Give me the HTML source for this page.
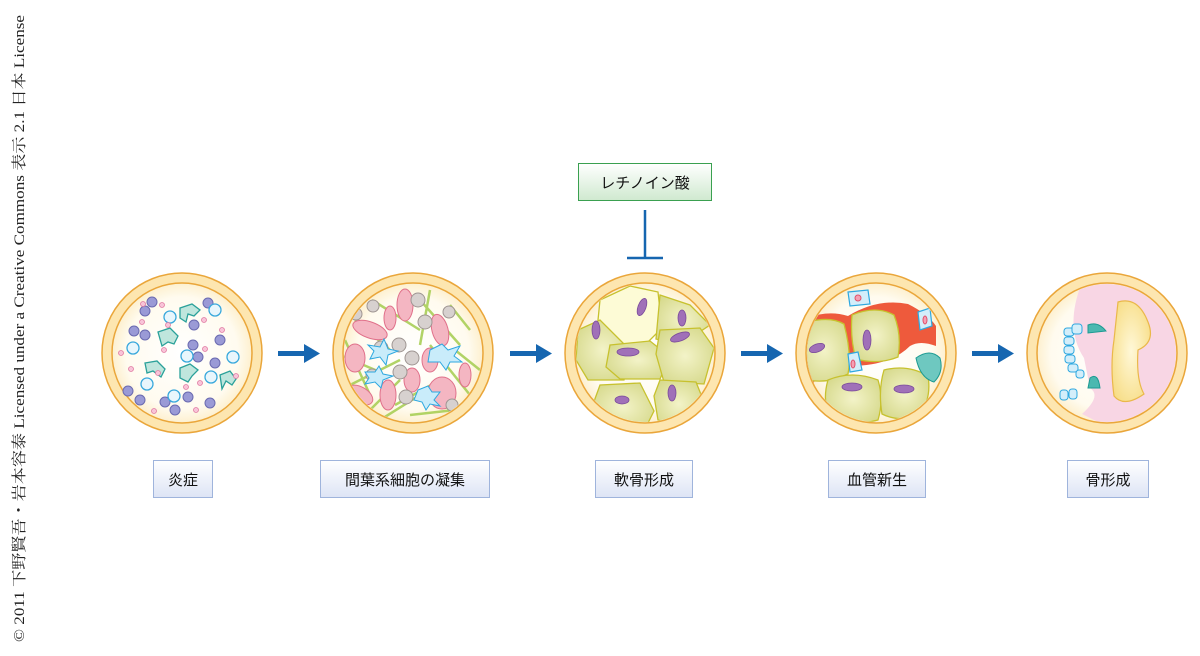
<!DOCTYPE html>
<html><head><meta charset="utf-8"><style>
body{margin:0;background:#fff;width:1200px;height:656px;overflow:hidden}
svg{display:block}
.lb{font-family:"Liberation Sans","Noto Sans CJK JP",sans-serif;font-size:15px;fill:#111}
</style></head><body>
<svg width="1200" height="656" viewBox="0 0 1200 656">
<defs>
<radialGradient id="bg" cx="50%" cy="50%" r="50%"><stop offset="0" stop-color="#fff"/><stop offset="0.8" stop-color="#fffbef"/><stop offset="1" stop-color="#fdf0cf"/></radialGradient>
<radialGradient id="cart" cx="50%" cy="50%" r="60%"><stop offset="0" stop-color="#f3f3c8"/><stop offset="1" stop-color="#d6d98c"/></radialGradient>
<linearGradient id="box" x1="0" y1="0" x2="0" y2="1"><stop offset="0" stop-color="#fff"/><stop offset="1" stop-color="#dde4f5"/></linearGradient>
<linearGradient id="gbox" x1="0" y1="0" x2="0" y2="1"><stop offset="0" stop-color="#fff"/><stop offset="1" stop-color="#cfe9cf"/></linearGradient>
<radialGradient id="bone" cx="50%" cy="50%" r="60%"><stop offset="0" stop-color="#fff8d8"/><stop offset="1" stop-color="#f7dd86"/></radialGradient>
<clipPath id="c2"><circle cx="413" cy="353" r="69"/></clipPath>
<clipPath id="c3"><circle cx="645" cy="353" r="69"/></clipPath>
<clipPath id="c4"><circle cx="876" cy="353" r="69"/></clipPath>
<clipPath id="c5"><circle cx="1107" cy="353" r="69"/></clipPath>
</defs>
<text transform="translate(24,642) rotate(-90)" font-family="Liberation Serif,'Noto Serif CJK SC',serif" font-size="15" fill="#222" textLength="627" lengthAdjust="spacingAndGlyphs">© 2011 下野賢吾・岩本容泰 Licensed under a Creative Commons 表示 2.1 日本 License</text>

<g stroke="#eaa63a" stroke-width="1.5">
<circle cx="182" cy="353" r="80" fill="#fde6b0"/><circle cx="182" cy="353" r="70" fill="url(#bg)"/>
<circle cx="413" cy="353" r="80" fill="#fde6b0"/><circle cx="413" cy="353" r="70" fill="url(#bg)"/>
<circle cx="645" cy="353" r="80" fill="#fde6b0"/><circle cx="645" cy="353" r="70" fill="url(#bg)"/>
<circle cx="876" cy="353" r="80" fill="#fde6b0"/><circle cx="876" cy="353" r="70" fill="url(#bg)"/>
<circle cx="1107" cy="353" r="80" fill="#fde6b0"/><circle cx="1107" cy="353" r="70" fill="url(#bg)"/>
</g>

<!-- 1 -->
<g>
<g fill="#9a9ad6" stroke="#6a6ab0" stroke-width="1">
<circle cx="152" cy="302" r="5"/><circle cx="145" cy="311" r="5"/><circle cx="208" cy="303" r="5"/><circle cx="134" cy="331" r="5"/><circle cx="145" cy="335" r="5"/><circle cx="193" cy="345" r="5"/><circle cx="220" cy="340" r="5"/><circle cx="198" cy="357" r="5"/><circle cx="215" cy="363" r="5"/><circle cx="128" cy="391" r="5"/><circle cx="140" cy="400" r="5"/><circle cx="165" cy="402" r="5"/><circle cx="175" cy="410" r="5"/><circle cx="188" cy="397" r="5"/><circle cx="210" cy="403" r="5"/><circle cx="194" cy="325" r="5"/>
</g>
<g fill="#e8f6fc" stroke="#38a8dc" stroke-width="1.3">
<circle cx="170" cy="317" r="6"/><circle cx="215" cy="310" r="6"/><circle cx="133" cy="348" r="6"/><circle cx="187" cy="356" r="6"/><circle cx="233" cy="357" r="6"/><circle cx="211" cy="377" r="6"/><circle cx="147" cy="384" r="6"/><circle cx="174" cy="396" r="6"/>
</g>
<g fill="#bfe6dd" stroke="#2aa19a" stroke-width="1.3">
<path d="M180 308 l12-4 8 6 -6 6 -6-2 -2 8 -6-4z"/><path d="M158 332 l12-4 8 8 -4 8 -6-2 -6 4z"/><path d="M145 363 l12-2 8 8 -4 8 -8-6 -6 2z"/><path d="M180 368 l10-4 8 6 -6 6 -4 6 -8-4z"/><path d="M220 375 l10-4 6 8 -4 6 -6-4 -4 8z"/>
</g>
<g fill="#f8c4d8" stroke="#e07aa2" stroke-width="0.8">
<circle cx="143" cy="304" r="2.5"/><circle cx="162" cy="305" r="2.5"/><circle cx="204" cy="320" r="2.5"/><circle cx="222" cy="330" r="2.5"/><circle cx="121" cy="353" r="2.5"/><circle cx="131" cy="369" r="2.5"/><circle cx="164" cy="350" r="2.5"/><circle cx="205" cy="349" r="2.5"/><circle cx="236" cy="376" r="2.5"/><circle cx="158" cy="373" r="2.5"/><circle cx="186" cy="387" r="2.5"/><circle cx="200" cy="383" r="2.5"/><circle cx="154" cy="411" r="2.5"/><circle cx="196" cy="410" r="2.5"/><circle cx="168" cy="325" r="2.5"/><circle cx="142" cy="322" r="2.5"/>
</g>
</g>

<!-- 2 -->
<g clip-path="url(#c2)">
<g stroke="#a9cf57" stroke-width="2.5" opacity="0.9">
<line x1="355" y1="320" x2="390" y2="350"/><line x1="372" y1="300" x2="420" y2="330"/><line x1="350" y1="385" x2="400" y2="360"/><line x1="420" y1="300" x2="460" y2="345"/><line x1="395" y1="405" x2="440" y2="380"/><line x1="430" y1="345" x2="470" y2="395"/><line x1="370" y1="410" x2="400" y2="380"/><line x1="450" y1="305" x2="470" y2="330"/><line x1="340" y1="355" x2="380" y2="372"/><line x1="410" y1="415" x2="455" y2="410"/><line x1="345" y1="340" x2="370" y2="395"/><line x1="430" y1="290" x2="420" y2="345"/><line x1="455" y1="350" x2="480" y2="370"/><line x1="380" y1="420" x2="420" y2="395"/>
</g>
<g fill="#f4b6c2" stroke="#e0708a" stroke-width="1">
<ellipse cx="370" cy="330" rx="18" ry="8" transform="rotate(20 370 330)"/><ellipse cx="405" cy="305" rx="8" ry="16"/><ellipse cx="355" cy="358" rx="10" ry="14"/><ellipse cx="440" cy="330" rx="8" ry="16" transform="rotate(-15 440 330)"/><ellipse cx="442" cy="393" rx="14" ry="16"/><ellipse cx="388" cy="395" rx="8" ry="15"/><ellipse cx="412" cy="380" rx="8" ry="12"/><ellipse cx="465" cy="375" rx="6" ry="12"/><ellipse cx="360" cy="395" rx="14" ry="8" transform="rotate(30 360 395)"/><ellipse cx="430" cy="360" rx="8" ry="12"/><ellipse cx="390" cy="318" rx="6" ry="12"/>
</g>
<g fill="#d7d1cf" stroke="#9e9592" stroke-width="1">
<circle cx="418" cy="300" r="7"/><circle cx="373" cy="306" r="6"/><circle cx="425" cy="322" r="7"/><circle cx="449" cy="312" r="6"/><circle cx="381" cy="348" r="7"/><circle cx="399" cy="345" r="7"/><circle cx="412" cy="358" r="7"/><circle cx="400" cy="372" r="7"/><circle cx="406" cy="397" r="7"/><circle cx="372" cy="375" r="6"/><circle cx="452" cy="405" r="6"/><circle cx="356" cy="314" r="6"/>
</g>
<g fill="#c9ecfa" stroke="#2ea8e0" stroke-width="1">
<path d="M368 345 l12 2 4-8 4 10 10 2 -10 4 -2 10 -6-8 -10 2 4-8z"/><path d="M430 350 l12-6 6 6 12-4 -6 10 8 6 -12 0 -4 8 -6-8 -12 0z"/><path d="M365 372 l10 0 4-6 4 8 10 2 -10 4 -2 8 -6-6 -10 2 4-6z"/><path d="M418 390 l10-4 4 6 8 0 -6 8 6 6 -10-2 -4 6 -4-8 -8-2z"/>
</g>
</g>

<!-- 3 -->
<g clip-path="url(#c3)">
<g stroke="#c7c12e" stroke-width="1.3" fill="url(#cart)">
<path d="M600 300 l30-14 28 6 4 36 -20 20 -34-4 -10-24z" fill="#fdfbd6"/>
<path d="M660 295 l30 10 20 20 -30 20 -24-6z"/>
<path d="M578 330 l22-10 30 30 -6 30 -36 0 -12-20z"/>
<path d="M610 345 l40 -4 20 16 -10 22 -40 0 -14-12z"/>
<path d="M660 330 l40 -2 14 20 -10 36 -40-2 -8-28z"/>
<path d="M600 385 l40 -2 14 28 -10 20 -40-4 -12-20z"/>
<path d="M660 380 l36 2 8 20 -20 26 -26-8 -4-24z"/>
</g>
<g fill="#a070b8" stroke="#7a4a9a" stroke-width="0.8">
<ellipse cx="642" cy="307" rx="4" ry="9" transform="rotate(20 642 307)"/><ellipse cx="682" cy="318" rx="4" ry="8"/><ellipse cx="596" cy="330" rx="4" ry="9"/><ellipse cx="628" cy="352" rx="11" ry="4"/><ellipse cx="680" cy="337" rx="10" ry="4" transform="rotate(-20 680 337)"/><ellipse cx="622" cy="400" rx="7" ry="4"/><ellipse cx="672" cy="393" rx="4" ry="8"/>
</g>
</g>

<!-- 4 -->
<g clip-path="url(#c4)">
<path d="M808 318 q20-8 40-2 q30-18 60-12 q20 10 28 22 l0 20 q-16-6-26 0 q-20 20-60 20 l-30 4 q-10 20-14 30 l-6-10 q-2-40 8-72z" fill="#ee5a3c"/>
<g stroke="#c7c12e" stroke-width="1.3" fill="url(#cart)">
<path d="M808 322 q22-6 36 2 q8 30 4 50 q-20 10-40 6 q-12-20-8-40z"/>
<path d="M852 315 q24-10 42 0 q8 20 4 42 q-20 8-42 2 q-6-20-4-44z"/>
<path d="M828 380 q24-10 50 0 q6 20 0 40 q-22 6-48 0 q-8-20-2-40z"/>
<path d="M884 370 q24-6 44 6 q4 24-10 40 q-20 6-36 -2 q-4-24 2-44z"/>
</g>
<g fill="#a070b8" stroke="#7a4a9a" stroke-width="0.8">
<ellipse cx="817" cy="348" rx="8" ry="4" transform="rotate(-20 817 348)"/><ellipse cx="867" cy="340" rx="4" ry="10"/><ellipse cx="852" cy="387" rx="10" ry="4"/><ellipse cx="904" cy="389" rx="10" ry="4"/>
</g>
<g fill="#d3eefa" stroke="#2ea8e0" stroke-width="1.2">
<path d="M848 292 l20-2 2 14 -20 2z"/><path d="M918 312 l12-4 2 18 -12 4z"/><path d="M848 354 l10-2 4 18 -12 2z"/>
</g>
<g fill="#f4a0b4" stroke="#e0506a" stroke-width="1"><circle cx="858" cy="298" r="3"/><ellipse cx="925" cy="320" rx="2" ry="4"/><ellipse cx="853" cy="364" rx="2" ry="4"/></g>
<path d="M916 358 q14-10 24 0 q4 14-6 24 q-14-4-18-24z" fill="#6ec8c0" stroke="#1c9a92"/>
</g>

<!-- 5 -->
<g clip-path="url(#c5)">
<path d="M1082 282 q40-8 80 20 q30 40 10 100 q-30 30-70 22 l-20 -10 q20-18 8-26 l-6-30 q-20-30-2-76z" fill="#f8d6e4"/>
<path d="M1118 302 q20-6 30 20 q8 20-10 28 q-2 30 6 44 q-20 14-30 2 q-4-30 0-56 z" fill="url(#bone)" stroke="#eab84a" stroke-width="1.2"/>
<g fill="#d3eefa" stroke="#2ea8e0" stroke-width="1"><rect x="1064" y="328" width="10" height="8" rx="3"/><rect x="1064" y="337" width="10" height="8" rx="3"/><rect x="1064" y="346" width="10" height="8" rx="3"/><rect x="1065" y="355" width="10" height="8" rx="3"/><rect x="1068" y="364" width="10" height="8" rx="3"/><rect x="1072" y="324" width="10" height="10" rx="3"/><rect x="1076" y="370" width="8" height="8" rx="3"/><rect x="1060" y="390" width="8" height="10" rx="3"/><rect x="1069" y="389" width="8" height="10" rx="3"/></g>
<path d="M1088 325 q10-4 18 6 l-18 2z M1090 378 q8-6 10 10 l-12 0z" fill="#4bb8b0" stroke="#1c9a92"/>
</g>

<g fill="#1666b0">
<rect x="278" y="351" width="28" height="5"/><polygon points="304,344 320,353.5 304,363"/>
<rect x="510" y="351" width="28" height="5"/><polygon points="536,344 552,353.5 536,363"/>
<rect x="741" y="351" width="28" height="5"/><polygon points="767,344 783,353.5 767,363"/>
<rect x="972" y="351" width="28" height="5"/><polygon points="998,344 1014,353.5 998,363"/>
</g>
<g stroke="#1666b0" stroke-width="2.5"><line x1="645" y1="210" x2="645" y2="258"/><line x1="627" y1="258" x2="663" y2="258"/></g>
<rect x="578.5" y="163.5" width="133" height="37" fill="url(#gbox)" stroke="#3aa050"/>
<text x="645" y="188" class="lb" text-anchor="middle">レチノイン酸</text>

<g fill="url(#box)" stroke="#9fb4dc">
<rect x="153.5" y="460.5" width="59" height="37"/><rect x="320.5" y="460.5" width="169" height="37"/><rect x="595.5" y="460.5" width="97" height="37"/><rect x="828.5" y="460.5" width="97" height="37"/><rect x="1067.5" y="460.5" width="81" height="37"/>
</g>
<text x="183" y="485" class="lb" text-anchor="middle">炎症</text>
<text x="405" y="485" class="lb" text-anchor="middle">間葉系細胞の凝集</text>
<text x="644" y="485" class="lb" text-anchor="middle">軟骨形成</text>
<text x="877" y="485" class="lb" text-anchor="middle">血管新生</text>
<text x="1108" y="485" class="lb" text-anchor="middle">骨形成</text>
</svg>
</body></html>
